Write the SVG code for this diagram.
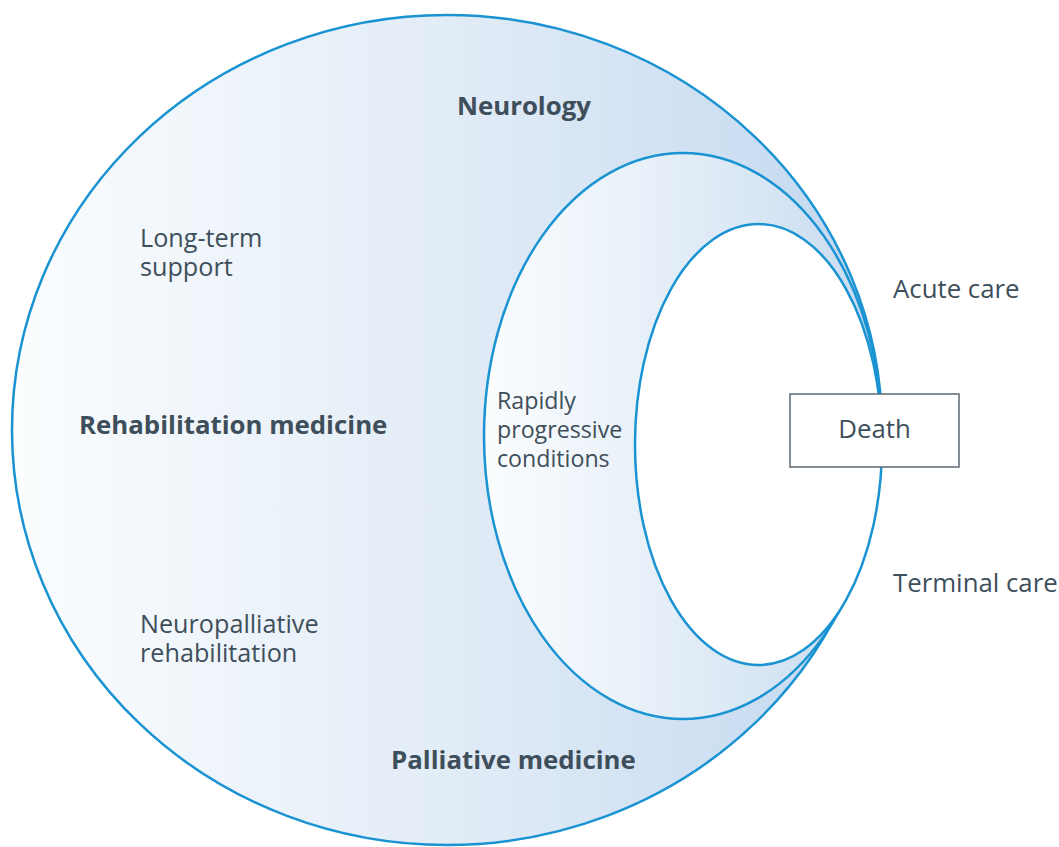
<svg xmlns="http://www.w3.org/2000/svg" width="1059" height="847" viewBox="0 0 1059 847">
  <defs>
    <linearGradient id="gOuter" x1="0" y1="0" x2="1" y2="0">
      <stop offset="0" stop-color="#fbfdfe"/>
      <stop offset="0.5" stop-color="#e2ecf7"/>
      <stop offset="1" stop-color="#c2d8ef"/>
    </linearGradient>
    <linearGradient id="gMid" x1="0" y1="0" x2="1" y2="0">
      <stop offset="0" stop-color="#fbfdfe"/>
      <stop offset="0.5" stop-color="#e3edf7"/>
      <stop offset="1" stop-color="#c6daf0"/>
    </linearGradient>
    <style>
      .ring { stroke: #1a93d2; stroke-width: 2.5; }
      .t { font-family: "Open Sans", "Noto Sans", "Liberation Sans", sans-serif; fill: #3e4f5b; font-size: 25.8px; }
      .b { font-weight: bold; font-size: 25.8px; }
      .m { font-size: 25.2px; }
      .s { font-size: 23.2px; }
      .box { fill: #ffffff; stroke: #5d6873; stroke-width: 1.5; }
    </style>
  </defs>
  <g id="neurology-field">
    <ellipse class="ring" cx="447" cy="430" rx="435" ry="415" fill="url(#gOuter)"/>
  </g>
  <g id="rapidly-progressive">
    <ellipse class="ring" cx="683" cy="436" rx="199" ry="283" fill="url(#gMid)"/>
  </g>
  <g id="inner-field">
    <ellipse class="ring" cx="758.5" cy="444.5" rx="123.5" ry="220.5" fill="#ffffff"/>
  </g>
  <g id="death">
    <rect class="box" x="790" y="394" width="169" height="73"/>
    <text class="t" x="874.5" y="438" text-anchor="middle">Death</text>
  </g>
  <g id="labels">
    <text class="t b" x="524" y="115" text-anchor="middle">Neurology</text>
    <text class="t m" x="140" y="246.5">Long-term</text>
    <text class="t m" x="140" y="275.5">support</text>
    <text class="t b" x="79" y="434">Rehabilitation medicine</text>
    <text class="t m" x="140" y="632.5">Neuropalliative</text>
    <text class="t m" x="140" y="661.5">rehabilitation</text>
    <text class="t b" x="391" y="769">Palliative medicine</text>
    <text class="t s" x="497" y="409">Rapidly</text>
    <text class="t s" x="497" y="438">progressive</text>
    <text class="t s" x="497" y="467">conditions</text>
    <text class="t" x="893" y="298">Acute care</text>
    <text class="t" x="893" y="592">Terminal care</text>
  </g>
  <g id="connectors"></g>
</svg>
